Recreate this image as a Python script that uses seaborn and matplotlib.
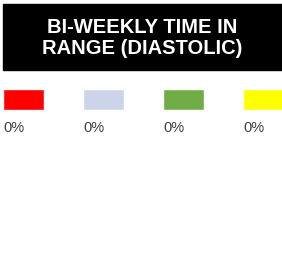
import matplotlib
matplotlib.use("Agg")
import matplotlib.pyplot as plt
import seaborn as sns
import pandas as pd
from matplotlib.patches import Rectangle

# data
title = "BI-WEEKLY TIME IN\nRANGE (DIASTOLIC)"
ranges = ["Low", "Normal", "Target", "High"]
pct = [0, 0, 0, 0]
colors = ["#FF0000", "#CDD3E8", "#70AD47", "#FFFF00"]

sns.set_theme(style="white")
plt.rcParams["font.family"] = ["Liberation Sans", "DejaVu Sans"]

W, H = 282, 266
fig = plt.figure(figsize=(W / 100, H / 100), dpi=100)

# title box
fig.patches.append(Rectangle((3 / W, 1 - 70 / H), 279 / W, 66 / H,
                             transform=fig.transFigure, color="black", zorder=0))
fig.text(142 / W, 1 - 38 / H, title, ha="center", va="center", color="white",
         fontsize=14.5, fontweight="bold", linespacing=1.1)

# swatches
ax = fig.add_axes([0, 1 - 110 / H, 1, 21 / H])
df = pd.DataFrame({"range": ranges, "pct": pct, "swatch": [1] * len(ranges)})
sns.barplot(data=df, x="range", y="swatch", hue="range", palette=colors,
            width=0.5125, legend=False, ax=ax, saturation=1)
ax.set_xlim(-23.5 / 80, (282 - 23.5) / 80)
ax.set_ylim(0, 1)
ax.axis("off")

for i, v in enumerate(df["pct"]):
    ax.text(i - 0.2563, -0.85, f"{v}%", ha="left", va="center",
            fontsize=10.5, color="#404040", clip_on=False)

fig.savefig("out.png", dpi=100)
